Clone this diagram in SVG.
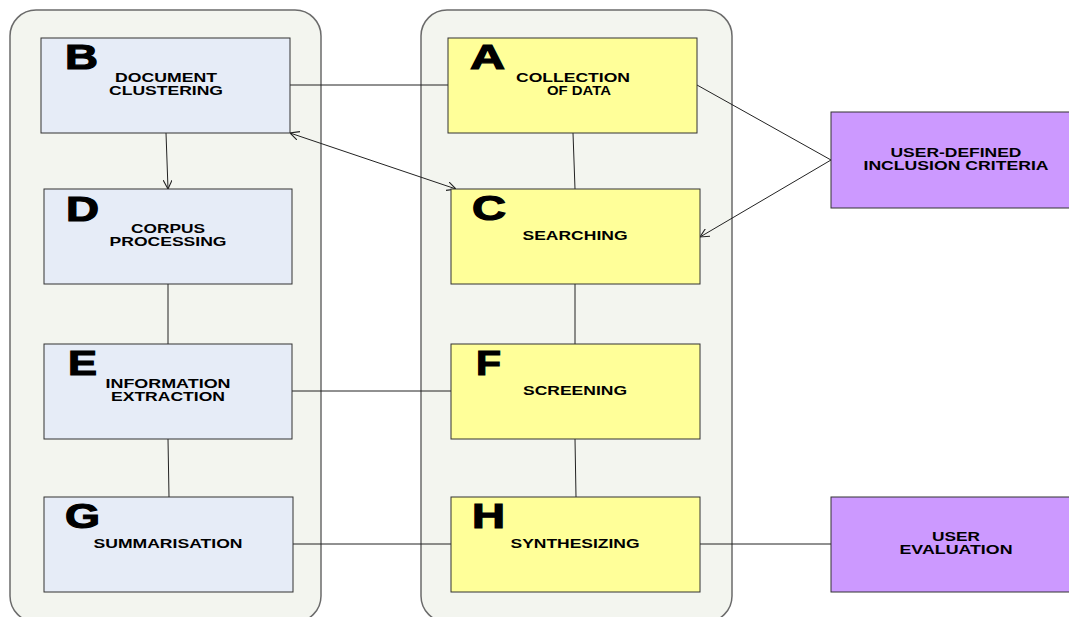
<svg xmlns="http://www.w3.org/2000/svg" width="1069" height="617" viewBox="0 0 1069 617">
<defs>
<style>
.cont{fill:#F3F5EF;stroke:#6b6b6b;stroke-width:1.5}
.blue{fill:#E6ECF7;stroke:#333;stroke-width:1}
.yel{fill:#FFFF99;stroke:#333;stroke-width:1}
.pur{fill:#CC99FF;stroke:#333;stroke-width:1}
.big{font-family:"Liberation Sans",Arial,sans-serif;font-weight:bold;font-size:35px;fill:#000;stroke:#000;stroke-width:1.2}
.lbl{font-family:"Liberation Sans",Arial,sans-serif;font-weight:bold;font-size:12px;fill:#000;text-anchor:middle}
.con line{stroke:#222;stroke-width:1;fill:none}
</style>
<marker id="arr" viewBox="0 0 10 10" refX="10" refY="5" markerWidth="9" markerHeight="9" markerUnits="userSpaceOnUse" orient="auto-start-reverse">
<path d="M0,0 L10,5 L0,10" fill="none" stroke="#222" stroke-width="1.2"/>
</marker>
</defs>
<rect width="1069" height="617" fill="#fff"/>
<g id="containers">
<rect class="cont" x="10" y="10" width="311" height="612" rx="26"/>
<rect class="cont" x="421" y="10" width="311" height="612" rx="26"/>
</g>
<g class="con" id="connectors">
<line x1="290" y1="85" x2="448" y2="85"/>
<line x1="166" y1="133" x2="168" y2="189" marker-end="url(#arr)"/>
<line x1="290" y1="133" x2="456" y2="189" marker-start="url(#arr)" marker-end="url(#arr)"/>
<line x1="573" y1="133" x2="575" y2="189"/>
<line x1="575" y1="284" x2="575" y2="344"/>
<line x1="168" y1="284" x2="168" y2="344"/>
<line x1="292" y1="391" x2="451" y2="391"/>
<line x1="168" y1="439" x2="169" y2="497"/>
<line x1="575" y1="439" x2="576" y2="497"/>
<line x1="293" y1="544" x2="451" y2="544"/>
<line x1="700" y1="544" x2="831" y2="544"/>
<line x1="697" y1="85" x2="831" y2="160"/>
<line x1="831" y1="160" x2="700" y2="237" marker-end="url(#arr)"/>
</g>
<g id="nodeB">
<rect class="blue" x="41" y="38" width="249" height="95"/>
<text class="big" x="65" y="69" textLength="33" lengthAdjust="spacingAndGlyphs">B</text>
<text class="lbl" x="166" y="82" textLength="102" lengthAdjust="spacingAndGlyphs">DOCUMENT</text>
<text class="lbl" x="166" y="95" textLength="114" lengthAdjust="spacingAndGlyphs">CLUSTERING</text>
</g>
<g id="nodeD">
<rect class="blue" x="44" y="189" width="248" height="95"/>
<text class="big" x="66" y="221" textLength="33" lengthAdjust="spacingAndGlyphs">D</text>
<text class="lbl" x="168" y="233" textLength="74" lengthAdjust="spacingAndGlyphs">CORPUS</text>
<text class="lbl" x="168" y="246" textLength="117" lengthAdjust="spacingAndGlyphs">PROCESSING</text>
</g>
<g id="nodeE">
<rect class="blue" x="44" y="344" width="248" height="95"/>
<text class="big" x="68" y="375" textLength="29" lengthAdjust="spacingAndGlyphs">E</text>
<text class="lbl" x="168" y="388" textLength="125" lengthAdjust="spacingAndGlyphs">INFORMATION</text>
<text class="lbl" x="168" y="401" textLength="114" lengthAdjust="spacingAndGlyphs">EXTRACTION</text>
</g>
<g id="nodeG">
<rect class="blue" x="44" y="497" width="249" height="95"/>
<text class="big" x="65" y="528" textLength="35" lengthAdjust="spacingAndGlyphs">G</text>
<text class="lbl" x="168" y="548" textLength="149" lengthAdjust="spacingAndGlyphs">SUMMARISATION</text>
</g>
<g id="nodeA">
<rect class="yel" x="448" y="38" width="249" height="95"/>
<text class="big" x="470" y="69" textLength="35" lengthAdjust="spacingAndGlyphs">A</text>
<text class="lbl" x="573" y="82" textLength="114" lengthAdjust="spacingAndGlyphs">COLLECTION</text>
<text class="lbl" x="579" y="95" textLength="64" lengthAdjust="spacingAndGlyphs">OF DATA</text>
</g>
<g id="nodeC">
<rect class="yel" x="451" y="189" width="249" height="95"/>
<text class="big" x="472" y="220" textLength="34" lengthAdjust="spacingAndGlyphs">C</text>
<text class="lbl" x="575" y="240" textLength="105" lengthAdjust="spacingAndGlyphs">SEARCHING</text>
</g>
<g id="nodeF">
<rect class="yel" x="451" y="344" width="249" height="95"/>
<text class="big" x="476" y="375" textLength="25" lengthAdjust="spacingAndGlyphs">F</text>
<text class="lbl" x="575" y="395" textLength="104" lengthAdjust="spacingAndGlyphs">SCREENING</text>
</g>
<g id="nodeH">
<rect class="yel" x="451" y="497" width="249" height="95"/>
<text class="big" x="472" y="528" textLength="33" lengthAdjust="spacingAndGlyphs">H</text>
<text class="lbl" x="575" y="548" textLength="129" lengthAdjust="spacingAndGlyphs">SYNTHESIZING</text>
</g>
<g id="nodeCriteria">
<rect class="pur" x="831" y="112" width="245" height="96"/>
<text class="lbl" x="956" y="157" textLength="131" lengthAdjust="spacingAndGlyphs">USER-DEFINED</text>
<text class="lbl" x="956" y="170" textLength="185" lengthAdjust="spacingAndGlyphs">INCLUSION CRITERIA</text>
</g>
<g id="nodeEvaluation">
<rect class="pur" x="831" y="497" width="245" height="95"/>
<text class="lbl" x="956" y="541" textLength="48" lengthAdjust="spacingAndGlyphs">USER</text>
<text class="lbl" x="956" y="554" textLength="113" lengthAdjust="spacingAndGlyphs">EVALUATION</text>
</g>
</svg>
